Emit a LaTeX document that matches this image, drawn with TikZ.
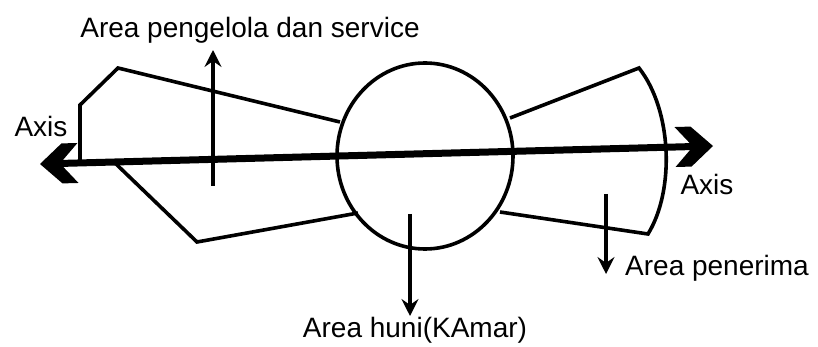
\documentclass[tikz,border=0pt]{standalone}
\usepackage{fontspec}
\setmainfont{Liberation Sans}
\usetikzlibrary{arrows.meta}
\begin{document}
\begin{tikzpicture}[x=1pt,y=-1pt,
  outline/.style={line width=3.6pt, line join=miter},
  axisline/.style={line width=7pt, shorten <=18pt, shorten >=18pt},
  chevron/.style={fill=black},
  pointer/.style={line width=3.4pt, -{Stealth[length=17pt,width=17pt,inset=6pt]}},
  lbl/.style={inner sep=0pt, font=\fontsize{28}{30}\selectfont}]
\useasboundingbox (0,0) rectangle (818,347);
% central circle (Area huni)
\coordinate (hub) at (425,156);
\draw[outline] (hub) ellipse [x radius=88, y radius=93];
% left wing
\draw[outline] (340,122) -- (118,68) -- (80,105) -- (80,163) -- (115,163) -- (197,242) -- (358,213);
% right wing
\draw[outline] (510,118) -- (639,68) .. controls (672,110) and (675,190) .. (648,234) -- (500,212);
% axis
\coordinate (axL) at (40,164);
\coordinate (axR) at (713,146);
\draw[axisline] (axL) -- (axR);
\fill[chevron, shift={(axL)}, rotate=1.53] (0,0) -- (22,-20) -- (38,-20) -- (20,0) -- (38,20) -- (22,20) -- cycle;
\fill[chevron, shift={(axR)}, rotate=1.53] (0,0) -- (-22,-20) -- (-38,-20) -- (-20,0) -- (-38,20) -- (-22,20) -- cycle;
% pointers
\coordinate (p1s) at (213,186);
\coordinate (p1e) at (213,50);
\draw[pointer] (p1s) -- (p1e);
\coordinate (p2s) at (410,214);
\coordinate (p2e) at (410,316);
\draw[pointer] (p2s) -- (p2e);
\coordinate (p3s) at (606,194);
\coordinate (p3e) at (606,274);
\draw[pointer] (p3s) -- (p3e);
% labels
\node[lbl] (t1) at (250,30) {Area pengelola dan service};
\node[lbl] (t2) at (415,330) {Area huni(KAmar)};
\node[lbl, anchor=west] (t3) at (625,268) {Area penerima};
\node[lbl] (t4) at (41,126) {Axis};
\node[lbl] (t5) at (707,184) {Axis};
\end{tikzpicture}
\end{document}
